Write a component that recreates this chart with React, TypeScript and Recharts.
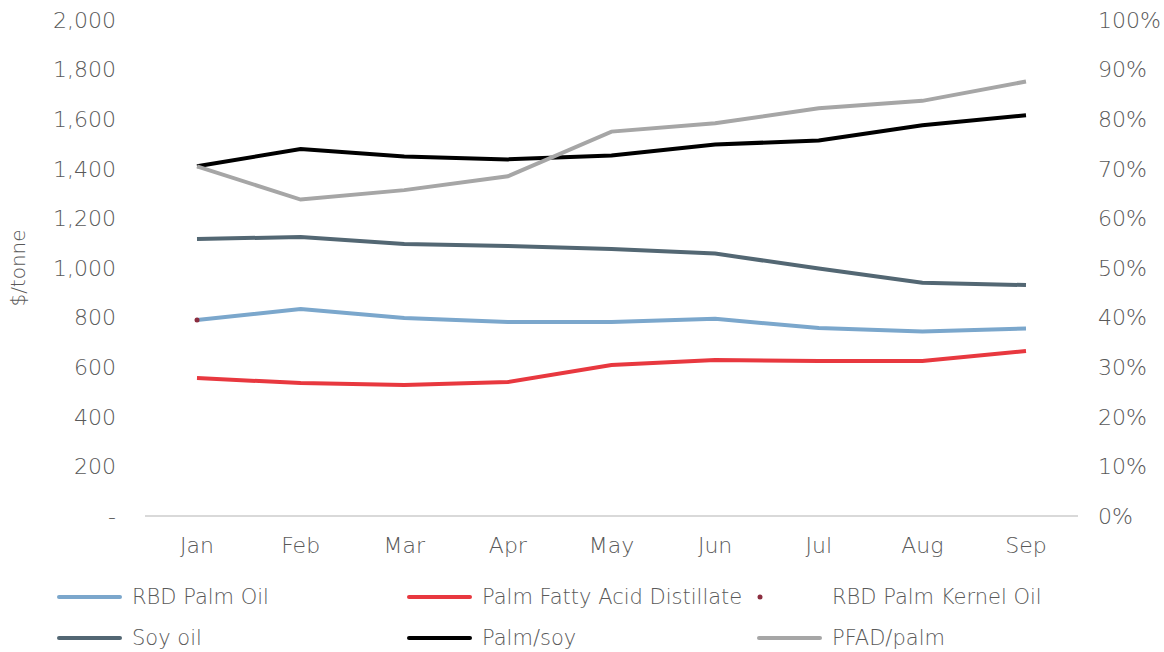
import { LineChart, Line, XAxis, YAxis, Legend } from "recharts";

const months = ["Jan", "Feb", "Mar", "Apr", "May", "Jun", "Jul", "Aug", "Sep"];
const rbdPalmOil = [790, 835, 798, 782, 782, 795, 758, 744, 756];
const pfad = [556, 536, 528, 540, 609, 629, 625, 625, 665];
const rbdPalmKernel = [790, null, null, null, null, null, null, null, null];
const soyOil = [1117, 1125, 1097, 1089, 1077, 1058, 998, 941, 931];
const palmSoy = [70.5, 74.0, 72.5, 71.9, 72.7, 74.9, 75.7, 78.8, 80.8];
const pfadPalm = [70.5, 63.8, 65.7, 68.5, 77.5, 79.2, 82.2, 83.7, 87.6];

const leftTicks = [0, 200, 400, 600, 800, 1000, 1200, 1400, 1600, 1800, 2000];
const rightTicks = [0, 10, 20, 30, 40, 50, 60, 70, 80, 90, 100];
const legendOrder = ["RBD Palm Oil", "Palm Fatty Acid Distillate", "RBD Palm Kernel Oil", "Soy oil", "Palm/soy", "PFAD/palm"];

const data = months.map((m, i) => ({
    month: m,
    rbd: rbdPalmOil[i],
    pfad: pfad[i],
    kernel: rbdPalmKernel[i],
    soy: soyOil[i],
    palmSoy: palmSoy[i],
    pfadPalm: pfadPalm[i],
}));

const FONT = "'DejaVu Sans', sans-serif";
const TEXT = "#595959";
const tickStyle = { fontSize: 22, fill: TEXT, fontFamily: FONT, fontWeight: 200 };

function LegendBox(props: any) {
    const items = [...(props.payload || [])].sort(
        (a: any, b: any) => legendOrder.indexOf(a.value) - legendOrder.indexOf(b.value)
    );
    return (
        <div
            style={{
                display: "grid",
                gridTemplateColumns: "350px 350px 350px",
                paddingLeft: 57,
                paddingTop: 21,
                rowGap: 1,
                fontFamily: FONT,
                fontWeight: 200,
                fontSize: 21,
                color: TEXT,
            }}
        >
            {items.map((it: any) => (
                <div key={it.value} style={{ display: "flex", alignItems: "center", height: 40 }}>
                    <svg width={65} height={10} style={{ marginRight: 10 }}>
                        {it.type === "circle" ? (
                            <circle cx={3} cy={5} r={2.5} fill={it.color} />
                        ) : (
                            <line x1={2} y1={5} x2={63} y2={5} stroke={it.color} strokeWidth={4} strokeLinecap="round" />
                        )}
                    </svg>
                    <span>{it.value}</span>
                </div>
            ))}
        </div>
    );
}

export default function App() {
    return (
        <div style={{ position: "absolute", left: 0, top: 0, background: "#fff" }}>
            <LineChart width={1164} height={652} data={data} margin={{ top: 20, right: 0, bottom: 0, left: 0 }}>
                <XAxis
                    dataKey="month"
                    axisLine={{ stroke: "#D9D9D9", strokeWidth: 2 }}
                    tickLine={false}
                    tickSize={0}
                    tickMargin={21}
                    height={40}
                    padding={{ left: 52, right: 52 }}
                    tick={tickStyle}
                />
                <YAxis
                    yAxisId="left"
                    width={145}
                    domain={[0, 2000]}
                    ticks={leftTicks}
                    axisLine={false}
                    tickLine={false}
                    tickSize={0}
                    tickMargin={29}
                    tick={tickStyle}
                    tickFormatter={(v: number) => (v === 0 ? "-" : v.toLocaleString("en-US"))}
                    label={{
                        value: "$/tonne",
                        angle: -90,
                        position: "insideLeft",
                        offset: 18,
                        style: { fontSize: 20, fill: TEXT, fontFamily: FONT, fontWeight: 200, textAnchor: "middle" },
                    }}
                />
                <YAxis
                    yAxisId="right"
                    orientation="right"
                    width={86}
                    domain={[0, 100]}
                    ticks={rightTicks}
                    axisLine={false}
                    tickLine={false}
                    tickSize={0}
                    tickMargin={20}
                    tick={{ ...tickStyle, textAnchor: "start" }}
                    tickFormatter={(v: number) => `${v}%`}
                />
                <Legend verticalAlign="bottom" height={96} content={<LegendBox />} wrapperStyle={{ left: 0, width: 1164 }} />
                <Line yAxisId="left" dataKey="rbd" name="RBD Palm Oil" stroke="#7BA7CC" strokeWidth={4} dot={false} isAnimationActive={false} />
                <Line yAxisId="left" dataKey="pfad" name="Palm Fatty Acid Distillate" stroke="#E8383F" strokeWidth={4} dot={false} isAnimationActive={false} />
                <Line
                    yAxisId="left"
                    dataKey="kernel"
                    name="RBD Palm Kernel Oil"
                    stroke="#8B2D3F"
                    strokeWidth={0}
                    legendType="circle"
                    dot={{ r: 2.5, fill: "#8B2D3F", stroke: "none" }}
                    isAnimationActive={false}
                />
                <Line yAxisId="left" dataKey="soy" name="Soy oil" stroke="#536773" strokeWidth={4} dot={false} isAnimationActive={false} />
                <Line yAxisId="right" dataKey="palmSoy" name="Palm/soy" stroke="#000000" strokeWidth={4} dot={false} isAnimationActive={false} />
                <Line yAxisId="right" dataKey="pfadPalm" name="PFAD/palm" stroke="#A6A6A6" strokeWidth={4} dot={false} isAnimationActive={false} />
            </LineChart>
        </div>
    );
}
